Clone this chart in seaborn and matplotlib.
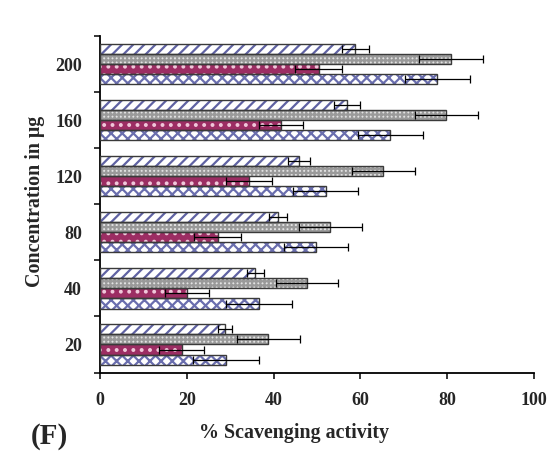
import numpy as np
import pandas as pd
import matplotlib
matplotlib.use("Agg")
import matplotlib.pyplot as plt
from matplotlib.patches import Rectangle
from matplotlib.ticker import FixedLocator
import seaborn as sns

# Values (bar ends and half-widths of error bars)
concentrations = ["20", "40", "80", "120", "160", "200"]
series_names = ["Series 1", "Series 2", "Series 3", "Series 4"]

s1_vals = [28.8, 35.8, 41.0, 45.8, 56.9, 58.8]
s1_err = [1.6, 1.9, 2.1, 2.5, 2.9, 3.1]
s2_vals = [38.8, 47.7, 53.1, 65.3, 79.8, 80.9]
s2_err = [7.3, 7.1, 7.3, 7.3, 7.3, 7.4]
s3_vals = [18.8, 20.0, 27.1, 34.3, 41.7, 50.4]
s3_err = [5.1, 5.0, 5.5, 5.3, 5.1, 5.4]
s4_vals = [29.1, 36.7, 49.7, 52.0, 66.9, 77.7]
s4_err = [7.6, 7.6, 7.4, 7.5, 7.5, 7.5]

all_vals = [s1_vals, s2_vals, s3_vals, s4_vals]
all_errs = [s1_err, s2_err, s3_err, s4_err]

# long-form table for seaborn
rows = []
for name, vals, errs in zip(series_names, all_vals, all_errs):
    for c, v, e in zip(concentrations, vals, errs):
        rows.append({"Concentration": c, "Series": name, "Value": v, "Err": e})
df = pd.DataFrame(rows)

# fill styles: (face, hatch colour, hatch)
styles = {
    "Series 1": ("white", "#5f62a3", "///"),
    "Series 2": ("#e2e2e2", "#9a9a9a", "++++"),
    "Series 3": ("#9c2d63", "#f0c8da", ".."),
    "Series 4": ("white", "#6a6eae", "xxx"),
}

sns.set_style("ticks")
plt.rcParams["font.family"] = ["Liberation Serif", "DejaVu Serif"]
plt.rcParams["hatch.linewidth"] = 1.6

fig = plt.figure(figsize=(5.58, 4.57), dpi=100)
ax = fig.add_axes([100 / 558, 1 - 372.5 / 457, 434 / 558, 336.5 / 457])

order = concentrations[::-1]
sns.barplot(
    data=df, y="Concentration", x="Value", hue="Series",
    order=order, hue_order=series_names, orient="h",
    width=0.72, gap=0, errorbar=None, legend=False, ax=ax,
)

err_lookup = {(r.Series, r.Concentration): r.Err for r in df.itertuples()}

for name, cont in zip(series_names, ax.containers):
    face, hcol, hatch = styles[name]
    for p in cont.patches:
        p.set_facecolor(face)
        p.set_edgecolor(hcol)   # sets hatch colour
        p.set_linewidth(0)
        p.set_hatch(hatch)
        x0, y0 = p.get_x(), p.get_y()
        w, h = p.get_width(), p.get_height()
        ax.add_patch(Rectangle((x0, y0), w, h, fill=False,
                               edgecolor="#3a3a3a", linewidth=1.0, zorder=3))
        yc = y0 + h / 2
        cat = order[int(round(yc))]
        ax.errorbar(w, yc, xerr=err_lookup[(name, cat)], fmt="none",
                    ecolor="black", elinewidth=0.9, capsize=2.6,
                    capthick=0.9, zorder=4)

ax.set_xlim(0, 100)
ax.set_ylim(len(order) - 0.5, -0.5)
ax.set_xticks([0, 20, 40, 60, 80, 100])
ax.yaxis.set_minor_locator(FixedLocator(np.arange(-0.5, len(order), 1.0)))
ax.tick_params(axis="y", which="major", length=0, pad=13)
ax.tick_params(axis="y", which="minor", length=4, width=1.3, direction="out")
ax.tick_params(axis="x", length=4, width=1.3, direction="out", pad=10)
for lab in ax.get_xticklabels() + ax.get_yticklabels():
    lab.set_fontsize(13)
    lab.set_fontweight("bold")

sns.despine(ax=ax)
for s in ["left", "bottom"]:
    ax.spines[s].set_linewidth(1.3)
    ax.spines[s].set_color("black")

ax.set_xlabel("% Scavenging activity", fontsize=14.4, fontweight="bold")
ax.xaxis.set_label_coords(0.447, -0.15)
ax.set_ylabel("Concentration in μg", fontsize=14.4, fontweight="bold")
ax.yaxis.set_label_coords(-0.127, 0.51)

fig.text(31 / 558, 1 - 437 / 457, "(F)", fontsize=21, fontweight="bold",
         ha="left", va="center")

fig.savefig("out.png", dpi=100)
